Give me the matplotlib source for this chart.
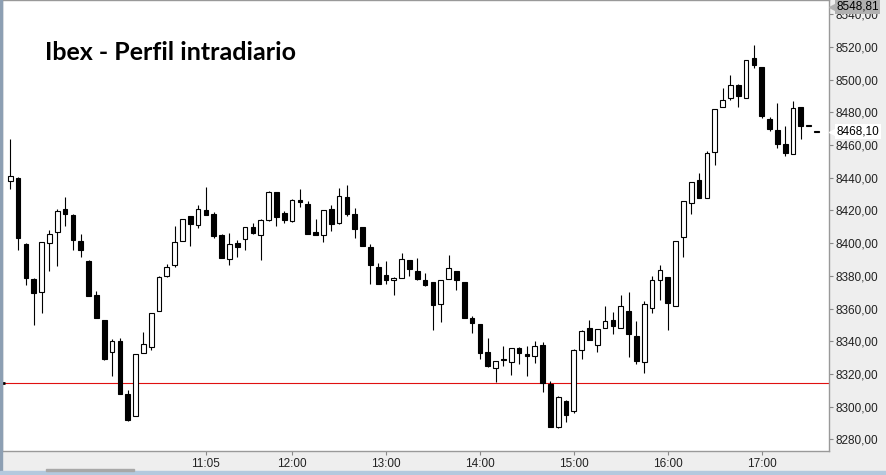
import numpy as np
import matplotlib
matplotlib.use("Agg")
from matplotlib import pyplot as plt
from matplotlib.patches import Rectangle
from matplotlib.transforms import blended_transform_factory

# 5-minute candles, 9:00 .. 17:35
opens = [8438.1, 8440.1, 8399.7, 8378.2, 8370.4, 8400.1, 8406.8, 8421.1, 8417.4, 8401.5,
         8389.3, 8368.4, 8353.1, 8333.3, 8340.2, 8307.6, 8294.1, 8332.7, 8336.7, 8358.2,
         8379.6, 8386.4, 8401.1, 8416.6, 8410.9, 8420.5, 8418.0, 8405.2, 8390.0, 8400.1,
         8402.3, 8409.9, 8404.8, 8413.9, 8431.3, 8418.5, 8413.8, 8426.6, 8424.2, 8407.0,
         8404.8, 8420.9, 8412.1, 8428.3, 8417.9, 8409.9, 8397.6, 8385.4, 8380.5, 8377.4,
         8378.8, 8389.7, 8382.9, 8377.6, 8376.0, 8362.5, 8377.8, 8383.1, 8376.4, 8354.3,
         8350.6, 8333.5, 8323.9, 8329.4, 8327.5, 8335.9, 8332.3, 8331.2, 8337.6, 8313.9,
         8287.7, 8303.3, 8297.5, 8334.9, 8348.0, 8337.4, 8348.0, 8353.1, 8347.8, 8358.6,
         8343.3, 8327.5, 8360.6, 8377.2, 8379.4, 8361.5, 8403.8, 8424.6, 8438.9, 8427.4,
         8455.6, 8483.4, 8488.7, 8496.5, 8488.7, 8513.6, 8508.1, 8476.1, 8469.5, 8460.8,
         8454.6, 8483.4, 8471.5, 8468.1]
highs = [8464.0, 8440.4, 8400.0, 8378.5, 8400.7, 8408.2, 8421.1, 8428.5, 8417.6, 8405.8,
         8389.9, 8370.9, 8353.1, 8341.5, 8341.9, 8310.2, 8332.1, 8345.7, 8357.2, 8380.0,
         8387.2, 8410.7, 8414.8, 8416.6, 8423.6, 8434.6, 8419.1, 8405.8, 8406.4, 8402.1,
         8409.9, 8412.5, 8414.8, 8431.9, 8431.3, 8419.7, 8427.0, 8433.4, 8425.8, 8415.0,
         8420.3, 8423.6, 8434.0, 8435.8, 8421.7, 8409.9, 8399.7, 8388.0, 8389.3, 8379.4,
         8394.2, 8389.7, 8391.1, 8381.9, 8376.4, 8377.6, 8392.9, 8383.1, 8376.4, 8355.6,
         8350.6, 8342.1, 8327.8, 8337.2, 8335.9, 8336.5, 8337.2, 8340.2, 8339.6, 8315.7,
         8306.3, 8303.9, 8335.5, 8346.6, 8353.1, 8347.4, 8361.3, 8357.6, 8368.4, 8370.3,
         8352.5, 8364.7, 8379.6, 8386.8, 8379.4, 8401.5, 8425.8, 8437.5, 8443.0, 8456.7,
         8482.2, 8495.1, 8503.2, 8497.7, 8512.2, 8521.0, 8508.1, 8477.3, 8485.5, 8471.4,
         8486.7, 8483.4, 8471.5, 8468.1]
lows = [8433.2, 8395.6, 8374.1, 8350.2, 8357.0, 8382.7, 8385.8, 8410.3, 8395.6, 8391.3,
        8367.4, 8353.9, 8328.6, 8319.0, 8307.9, 8291.0, 8294.1, 8332.7, 8334.7, 8358.2,
        8379.0, 8385.6, 8401.1, 8398.4, 8409.5, 8417.4, 8402.9, 8390.7, 8386.4, 8391.7,
        8396.0, 8405.4, 8389.9, 8413.3, 8410.3, 8412.1, 8413.2, 8421.9, 8405.8, 8404.8,
        8400.5, 8407.2, 8411.5, 8416.4, 8402.9, 8398.0, 8375.3, 8375.3, 8375.3, 8368.0,
        8378.4, 8380.1, 8377.6, 8373.9, 8347.0, 8351.9, 8377.8, 8371.1, 8354.5, 8345.3,
        8328.8, 8324.5, 8315.1, 8324.9, 8319.4, 8326.3, 8319.0, 8326.9, 8309.2, 8287.7,
        8287.1, 8290.6, 8296.3, 8329.2, 8341.0, 8333.1, 8348.0, 8344.7, 8347.8, 8330.6,
        8326.3, 8320.8, 8357.4, 8365.2, 8347.0, 8361.5, 8391.3, 8417.6, 8427.4, 8427.4,
        8448.1, 8483.4, 8487.9, 8483.2, 8488.7, 8507.1, 8476.4, 8468.9, 8458.1, 8453.6,
        8454.6, 8463.6, 8471.5, 8468.1]
closes = [8440.9, 8402.9, 8378.4, 8369.8, 8400.7, 8405.6, 8419.9, 8417.6, 8401.7, 8395.6,
          8367.4, 8353.9, 8329.2, 8340.0, 8307.9, 8292.0, 8332.1, 8338.2, 8357.2, 8379.3,
          8385.4, 8400.7, 8414.8, 8411.5, 8420.9, 8417.4, 8404.6, 8390.7, 8399.5, 8397.4,
          8409.9, 8406.0, 8414.2, 8431.3, 8415.8, 8413.9, 8426.4, 8425.0, 8405.8, 8404.8,
          8420.3, 8411.5, 8428.9, 8417.6, 8408.4, 8398.0, 8386.4, 8375.3, 8377.2, 8378.7,
          8390.3, 8383.9, 8378.2, 8374.5, 8361.9, 8377.6, 8384.8, 8377.2, 8354.5, 8351.4,
          8332.5, 8325.1, 8327.8, 8328.2, 8335.9, 8332.5, 8331.2, 8337.0, 8314.3, 8287.7,
          8305.7, 8295.1, 8334.7, 8346.2, 8341.0, 8347.4, 8352.3, 8349.0, 8361.7, 8344.1,
          8328.0, 8362.7, 8377.6, 8383.6, 8363.1, 8401.5, 8425.8, 8437.5, 8427.4, 8455.2,
          8482.2, 8487.7, 8496.9, 8489.9, 8512.2, 8508.9, 8478.1, 8469.7, 8460.5, 8455.0,
          8482.8, 8471.5, 8471.5, 8468.1]

prev_close = 8314.3
axis_top = 8548.81
last_price = 8468.10
time_ticks = [25, 36, 48, 60, 72, 84, 96]
time_labels = ["11:05", "12:00", "13:00", "14:00", "15:00", "16:00", "17:00"]
y_ticks = list(range(8280, 8541, 20))

W, H = 887, 475
fig = plt.figure(figsize=(W / 100, H / 100), dpi=100, facecolor="#eeeeee")
ax = fig.add_axes([2 / W, 1 - 451 / H, 827 / W, 451 / H])
ax.set_facecolor("white")

o = np.array(opens)
c = np.array(closes)
x = np.arange(len(o))
up = c >= o
bottom = np.minimum(o, c)
height = np.maximum(np.abs(c - o), 0.7)

ax.vlines(x, lows, highs, color="black", linewidth=0.8, zorder=2)
ax.bar(x, height, bottom=bottom, width=0.6,
       color=np.where(up, "white", "black"), edgecolor="black",
       linewidth=0.8, zorder=3)

ax.axhline(prev_close, color="#e01010", linewidth=0.8, zorder=1)
ax.plot([-1.0], [prev_close], marker="_", color="black", markersize=5,
        markeredgewidth=2, clip_on=False, zorder=4)

ax.set_xlim(-1.06, 104.6)
ax.set_ylim(8272.8, axis_top)

ax.yaxis.tick_right()
ax.set_yticks(y_ticks)
ax.set_yticklabels([f"{v},00" for v in y_ticks])
ax.set_xticks(time_ticks)
ax.set_xticklabels(time_labels)
ax.tick_params(axis="both", colors="#888888", length=3, width=0.8,
               labelcolor="#222222", labelsize=8.5, pad=2)
for lab in ax.get_xticklabels() + ax.get_yticklabels():
    lab.set_family("Liberation Sans")
for s in ax.spines.values():
    s.set_color("#999999")
    s.set_linewidth(1.0)

tr = blended_transform_factory(ax.transAxes, ax.transData)
ax.text(1.009, last_price, f"{last_price:.2f}".replace(".", ","), transform=tr,
        ha="left", va="center", fontsize=8.5, family="Liberation Sans", color="black",
        bbox=dict(boxstyle="square,pad=0.12", fc="white", ec="none"), zorder=5)
ax.plot([1.0035], [last_price], marker="<", color="white", markersize=4.5,
        transform=tr, clip_on=False, zorder=6)
ax.text(1.009, 0.9995, f"{axis_top:.2f}".replace(".", ","), transform=ax.transAxes,
        ha="left", va="top", fontsize=8.5, family="Liberation Sans", color="black",
        bbox=dict(boxstyle="square,pad=0.12", fc="#b0b0b0", ec="none"), zorder=5)
ax.plot([1.0035], [0.985], marker="<", color="#b0b0b0", markersize=4.5,
        transform=ax.transAxes, clip_on=False, zorder=6)

ax.text(43 / 827, 1 - 60 / 451, "Ibex - Perfil intradiario", transform=ax.transAxes,
        ha="left", va="baseline", fontsize=18, fontweight="bold", family="Lato",
        color="black")

# window chrome
fig.patches.append(Rectangle((0, 0), 2 / W, 1, transform=fig.transFigure,
                             color="#8d9fb3", zorder=0))
fig.patches.append(Rectangle((0, 0), 1, 4 / H, transform=fig.transFigure,
                             color="#b4c9de", zorder=0))
fig.patches.append(Rectangle((46 / W, 4 / H), 88 / W, 2 / H, transform=fig.transFigure,
                             color="#a8a8a8", zorder=0))

fig.savefig("out.png", dpi=100, facecolor=fig.get_facecolor())
